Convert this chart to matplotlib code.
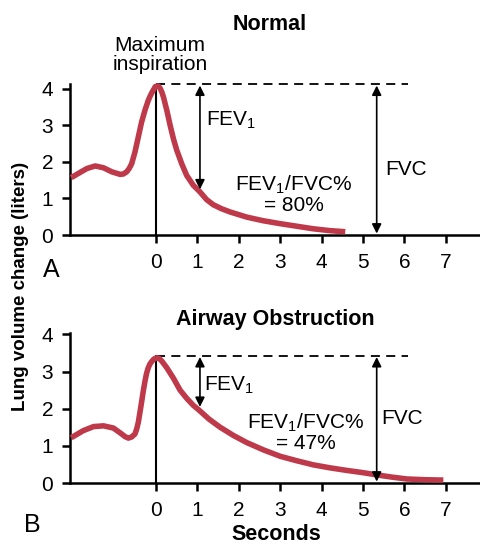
import matplotlib
matplotlib.use('Agg')
import matplotlib.pyplot as plt

plt.rcParams['font.family'] = ['Liberation Sans', 'DejaVu Sans']
plt.rcParams['mathtext.fontset'] = 'custom'
plt.rcParams['mathtext.rm'] = 'Liberation Sans'

# Curve readings (seconds, liters)
normal_t = [-2.05, -1.84, -1.67, -1.47, -1.27, -1.07, -0.87, -0.79, -0.71, -0.65,
            -0.59, -0.51, -0.43, -0.35, -0.27, -0.19, -0.14, -0.10, -0.06, -0.02,
            0.03, 0.06, 0.10, 0.14, 0.18, 0.26, 0.34, 0.42, 0.50, 0.62,
            0.74, 0.90, 1.06, 1.22, 1.38, 1.58, 1.79, 2.19, 2.59, 3.00,
            3.40, 3.80, 4.20, 4.57]
normal_v = [1.57, 1.71, 1.82, 1.89, 1.84, 1.73, 1.66, 1.67, 1.73, 1.82,
            1.95, 2.27, 2.68, 3.09, 3.41, 3.68, 3.81, 3.90, 3.98, 4.06,
            4.08, 4.07, 4.01, 3.91, 3.77, 3.41, 3.00, 2.63, 2.32, 1.95,
            1.63, 1.36, 1.18, 0.97, 0.83, 0.72, 0.63, 0.49, 0.39, 0.31,
            0.24, 0.17, 0.12, 0.09]

obstr_t = [-2.05, -1.76, -1.51, -1.27, -1.03, -0.83, -0.75, -0.67, -0.59, -0.51,
           -0.47, -0.43, -0.39, -0.35, -0.31, -0.27, -0.23, -0.19, -0.15, -0.10,
           -0.05, 0.02, 0.08, 0.14, 0.26, 0.42, 0.58, 0.74, 0.90, 1.02,
           1.28, 1.55, 1.87, 2.19, 2.60, 3.00, 3.40, 3.80, 4.20, 4.61,
           5.00, 5.33, 5.70, 6.06, 6.50, 6.94]
obstr_v = [1.22, 1.41, 1.52, 1.54, 1.48, 1.32, 1.25, 1.21, 1.24, 1.32,
           1.45, 1.63, 1.90, 2.18, 2.47, 2.73, 2.95, 3.10, 3.20, 3.28,
           3.34, 3.37, 3.35, 3.28, 3.10, 2.82, 2.50, 2.28, 2.09, 1.98,
           1.72, 1.50, 1.28, 1.09, 0.89, 0.72, 0.60, 0.49, 0.41, 0.34,
           0.28, 0.22, 0.16, 0.11, 0.09, 0.08]

x_ticks = [0, 1, 2, 3, 4, 5, 6, 7]
y_ticks = [0, 1, 2, 3, 4]

# annotation values
normal_peak = 4.12
obstr_peak = 3.42
fev1_t = 1.06
fvc_t = 5.33
dash_end = 6.08
normal_fev1_low = 1.25
obstr_fev1_low = 2.05
normal_ratio = '80%'
obstr_ratio = '47%'

red = '#BE3A4A'
fs = 15

fig = plt.figure(figsize=(4.81, 5.44), dpi=100)
ax1 = fig.add_axes([0.1455, 0.568, 0.8545, 0.2767])
ax2 = fig.add_axes([0.1455, 0.112, 0.8545, 0.2767])


def style(ax, top):
    ax.set_xlim(-2.08, 7.85)
    ax.set_ylim(0, top)
    ax.set_xticks(x_ticks)
    ax.set_yticks(y_ticks)
    for s in ['top', 'right']:
        ax.spines[s].set_visible(False)
    for s in ['left', 'bottom']:
        ax.spines[s].set_linewidth(1.8)
    ax.tick_params(length=6, width=1.8, labelsize=fs, pad=6)
    ax.tick_params(axis='x', pad=7)


def panel(ax, t, v, peak, fev_low, ratio, fev_pos, ratio_pos, fvc_pos):
    ax.plot(t, v, color=red, lw=4, solid_capstyle='butt', solid_joinstyle='round',
            clip_on=False, zorder=3)
    ax.plot([0, 0], [0, peak], color='black', lw=1.5, zorder=2)
    ax.plot([0, dash_end], [peak, peak], color='black', lw=1.3, dashes=(5, 3.5),
            clip_on=False)
    arrow = dict(arrowstyle='<|-|>', color='black', lw=1.2, mutation_scale=14,
                 shrinkA=0, shrinkB=0)
    ax.annotate('', xy=(fev1_t, fev_low), xytext=(fev1_t, peak - 0.03),
                arrowprops=arrow, annotation_clip=False)
    ax.annotate('', xy=(fvc_t, 0.04), xytext=(fvc_t, peak - 0.03),
                arrowprops=arrow, annotation_clip=False)
    ax.text(fev_pos[0], fev_pos[1], r'FEV$_\mathregular{1}$', fontsize=fs,
            ha='left', va='center')
    ax.text(ratio_pos[0], ratio_pos[1],
            'FEV$_\\mathregular{1}$/FVC%\n= ' + ratio, fontsize=fs,
            ha='center', va='center', multialignment='center', linespacing=1.0)
    ax.text(fvc_pos[0], fvc_pos[1], 'FVC', fontsize=fs, ha='left', va='center')


style(ax1, 4.12)
style(ax2, 4.05)
panel(ax1, normal_t, normal_v, normal_peak, normal_fev1_low, normal_ratio,
      (1.2, 3.15), (3.32, 1.12), (5.53, 1.78))
panel(ax2, obstr_t, obstr_v, obstr_peak, obstr_fev1_low, obstr_ratio,
      (1.15, 2.62), (3.61, 1.38), (5.45, 1.73))

fig.text(0.561, 0.945, 'Normal', fontsize=15.5, fontweight='bold', ha='center',
         va='baseline')
fig.text(0.573, 0.403, 'Airway Obstruction', fontsize=15.5, fontweight='bold',
         ha='center', va='baseline')
fig.text(0.333, 0.899, 'Maximum\ninspiration', fontsize=fs, ha='center',
         va='center', linespacing=1.05)
fig.text(0.574, 0.008, 'Seconds', fontsize=15.5, fontweight='bold', ha='center',
         va='baseline')
fig.text(0.042, 0.474, 'Lung volume change (liters)', fontsize=13.5,
         fontweight='bold', rotation=90, ha='center', va='center')
fig.text(0.089, 0.491, 'A', fontsize=18, ha='left', va='baseline')
fig.text(0.05, 0.022, 'B', fontsize=18, ha='left', va='baseline')

fig.savefig('out.png', dpi=100)
